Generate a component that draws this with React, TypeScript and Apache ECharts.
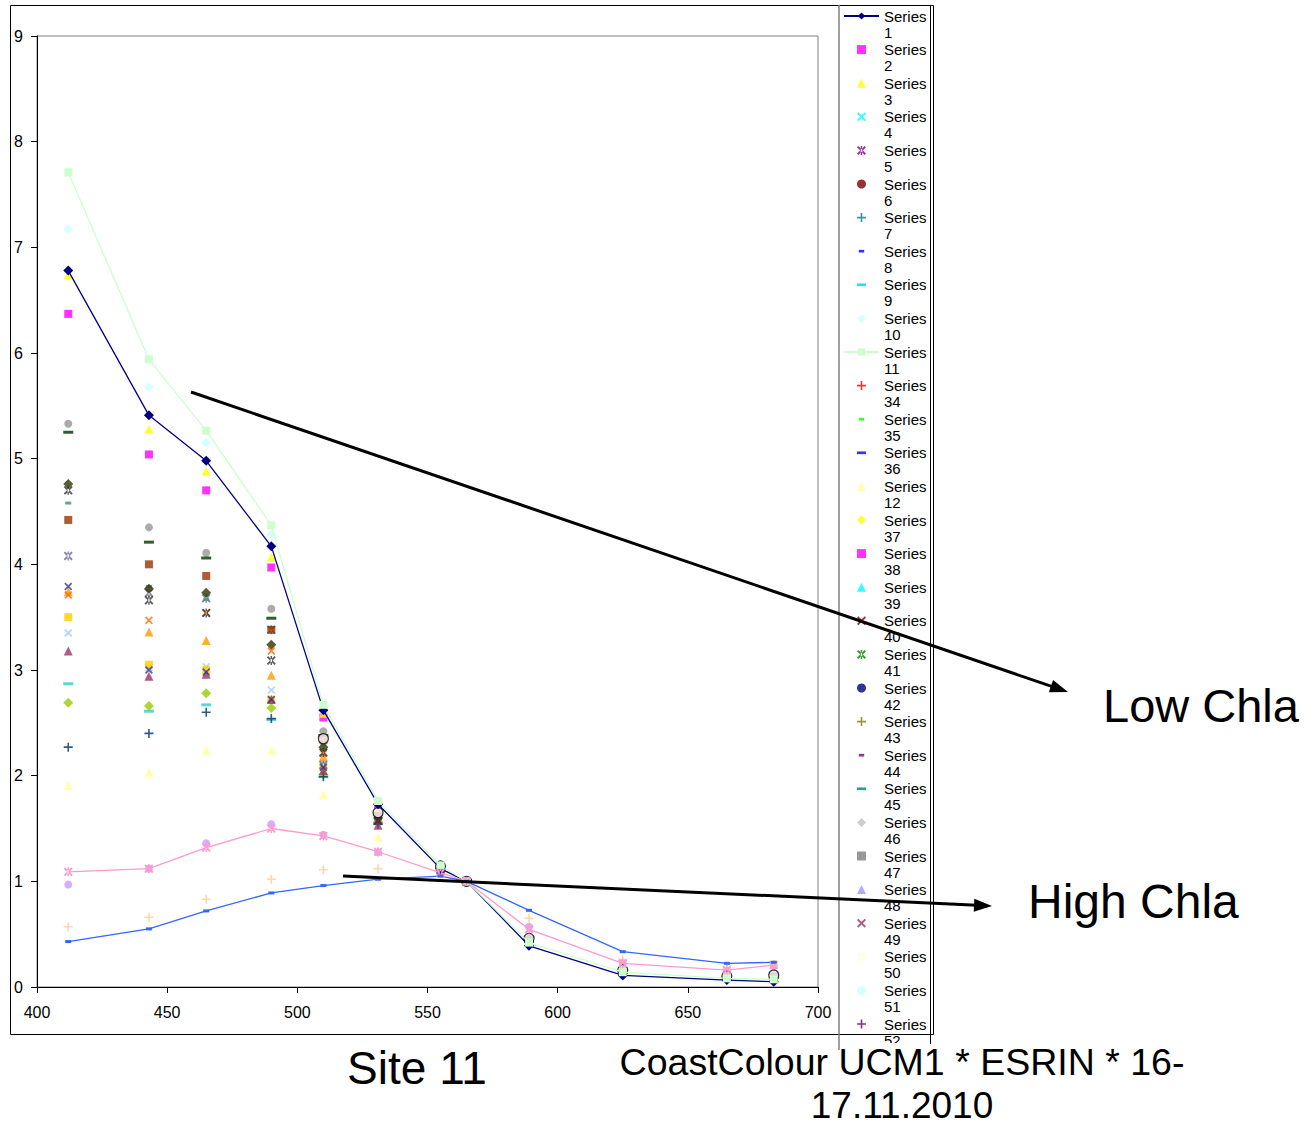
import React, { useEffect, useRef } from 'react';
import * as echarts from 'echarts';

// Wavelengths (nm) — x positions of the measurements
const wavelengths = [412, 443, 465, 490, 510, 531, 555, 565, 589, 625, 665, 683];
const xTicks = [400, 450, 500, 550, 600, 650, 700];
const yTicks = [0, 1, 2, 3, 4, 5, 6, 7, 8, 9];

// Normalised reflectance per series (null = no value)
const series1 = [6.78, 5.41, 4.98, 4.17, 2.62, 1.73, 1.12, 1.0, 0.39, 0.11, 0.066, 0.05];
const series2 = [6.37, 5.04, 4.7, 3.97, 2.55, 1.68, 1.13, 1.0, 0.44, 0.15, 0.09, 0.09];
const series3 = [6.74, 5.28, 4.88, 4.07, 2.59, 1.7, 1.13, 1.0, 0.43, 0.14, 0.09, 0.08];
const series10 = [7.17, 5.675, 5.15, 4.28, 2.64, 1.74, 1.14, 1.0, 0.42, 0.14, 0.08, 0.08];
const series11 = [7.71, 5.94, 5.265, 4.37, 2.67, 1.76, 1.15, 1.0, 0.42, 0.14, 0.082, 0.073];
const series12 = [1.91, 2.03, 2.24, 2.24, 1.82, 1.42, 1.1, 1.0, 0.5, 0.19, 0.12, 0.13];
const series13 = [3.35, 3.02, 3.03, 2.81, 2.12, 1.58, 1.12, 1.0, 0.46, 0.16, 0.1, 0.11];
const series14 = [1.09, 1.12, 1.32, 1.5, 1.43, 1.28, 1.08, 1.0, 0.546, 0.224, 0.16, 0.208];
const series15 = [0.97, 1.12, 1.36, 1.54, 1.44, 1.275, 1.09, 1.0, 0.57, 0.23, 0.15, 0.2];
const series16 = [0.57, 0.66, 0.83, 1.02, 1.11, 1.12, 1.07, 1.0, 0.65, 0.26, 0.17, 0.21];
const series17 = [0.43, 0.55, 0.72, 0.89, 0.96, 1.02, 1.05, 1.0, 0.726, 0.334, 0.224, 0.234];
const series18 = [2.87, 2.61, 2.67, 2.53, 1.99, 1.55, 1.11, 1.0, 0.47, 0.17, 0.11, 0.12];
const series19 = [2.69, 2.66, 2.78, 2.64, 2.01, 1.56, 1.11, 1.0, 0.46, 0.17, 0.1, 0.11];
const series20 = [3.5, 3.05, 3.0, 2.72, 2.08, 1.57, 1.12, 1.0, 0.45, 0.16, 0.1, 0.1];
const series21 = [3.74, 3.36, 3.28, 2.95, 2.18, 1.6, 1.12, 1.0, 0.44, 0.15, 0.09, 0.09];
const series22 = [3.71, 3.47, 3.54, 3.18, 2.21, 1.6, 1.12, 1.0, 0.44, 0.15, 0.09, 0.09];
const series23 = [4.08, 3.73, 3.68, 3.38, 2.1, 1.57, 1.12, 1.0, 0.45, 0.15, 0.09, 0.1];
const series24 = [5.33, 4.35, 4.11, 3.58, 2.42, 1.64, 1.14, 1.0, 0.44, 0.15, 0.1, 0.1];
const series25 = [2.27, 2.4, 2.6, 2.54, 1.99, 1.54, 1.11, 1.0, 0.47, 0.17, 0.11, 0.12];
const series26 = [4.58, 3.79, 3.67, 3.4, 2.3, 1.62, 1.13, 1.0, 0.44, 0.15, 0.09, 0.1];
const series27 = [5.25, 4.21, 4.06, 3.49, 2.38, 1.64, 1.13, 1.0, 0.43, 0.14, 0.09, 0.09];
const series28 = [4.76, 3.77, 3.73, 3.24, 2.27, 1.6, 1.12, 1.0, 0.44, 0.15, 0.09, 0.1];
const series29 = [4.42, 4.0, 3.89, 3.38, 2.34, 1.62, 1.13, 1.0, 0.44, 0.15, 0.09, 0.09];
const series30 = [3.18, 2.94, 2.96, 2.72, 2.05, 1.53, 1.11, 1.0, 0.47, 0.17, 0.11, 0.12];
const series31 = [3.79, 3.0, 2.98, 2.72, 2.08, 1.57, 1.12, 1.0, 0.45, 0.16, 0.1, 0.1];
const series32 = [4.7, 3.66, 3.54, 3.09, 2.22, 1.58, 1.12, 1.0, 0.45, 0.15, 0.09, 0.1];
const series33 = [null, null, null, null, 2.35, 1.65, 1.145, 1.0, 0.46, 0.16, 0.104, 0.114];

const seriesValues: Record<number, (number | null)[]> = {
  1: series1, 2: series2, 3: series3, 10: series10, 11: series11, 12: series12,
  13: series13, 14: series14, 15: series15, 16: series16, 17: series17, 18: series18,
  19: series19, 20: series20, 21: series21, 22: series22, 23: series23, 24: series24,
  25: series25, 26: series26, 27: series27, 28: series28, 29: series29, 30: series30,
  31: series31, 32: series32, 33: series33,
};

// Legend order as it appears in the reference
const legendOrder = [1, 2, 3, 4, 5, 6, 7, 8, 9, 10, 11, 34, 35, 36, 12, 37, 38, 39, 40, 41, 42, 43, 44, 45, 46, 47, 48, 49, 50, 51, 52];

const seriesColors: Record<number, string> = {
  1: '#000080', 2: '#FF00FF', 3: '#FFFF00', 4: '#00FFFF', 5: '#800080', 6: '#800000', 7: '#008080',
  8: '#0000FF', 9: '#00CCFF', 10: '#CCFFFF', 11: '#CCFFCC', 12: '#FFFF99', 13: '#99CCFF', 14: '#FF99CC',
  15: '#CC99FF', 16: '#FFCC99', 17: '#3366FF', 18: '#33CCCC', 19: '#99CC00', 20: '#FFCC00', 21: '#FF9900',
  22: '#FF6600', 23: '#666699', 24: '#969696', 25: '#003366', 26: '#339966', 27: '#003300', 28: '#333300',
  29: '#993300', 30: '#993366', 31: '#333399', 32: '#333333', 33: '#FFFFFF', 34: '#FF0000', 35: '#00FF00',
  36: '#0000FF', 37: '#FFFF00', 38: '#FF00FF', 39: '#00FFFF', 40: '#800000', 41: '#008000', 42: '#000080',
  43: '#808000', 44: '#800080', 45: '#008080', 46: '#C0C0C0', 47: '#808080', 48: '#9999FF', 49: '#993366',
  50: '#FFFFCC', 51: '#CCFFFF', 52: '#660066',
};

const lineSeries = [1, 11, 14, 17];
const markerCycle = ['diamond', 'square', 'triangle', 'x', 'star', 'circle', 'plus', 'sdash', 'ldash'];

const DIAMOND_PATH = 'path://M5,0L10,5L5,10L0,5Z';
const SQUARE_PATH = 'path://M0,0H10V10H0Z';
const TRI_PATH = 'path://M5,0L10,10L0,10Z';
const X_PATH = 'path://M0,1.5L1.5,0L5,3.5L8.5,0L10,1.5L6.5,5L10,8.5L8.5,10L5,6.5L1.5,10L0,8.5L3.5,5Z';
const STAR_PATH = 'path://M0,1.5L1.5,0L5,3.5L8.5,0L10,1.5L6.5,5L10,8.5L8.5,10L5,6.5L1.5,10L0,8.5L3.5,5Z M4.2,0L4.2,10L5.8,10L5.8,0Z';
const PLUS_PATH = 'path://M4.1,0H5.9V4.1H10V5.9H5.9V10H4.1V5.9H0V4.1H4.1Z';
const SDASH_PATH = 'path://M0,0M10,10M2,3.5H8V6.5H2Z';
const LDASH_PATH = 'path://M0,0M10,10M0,3.5H10V6.5H0Z';

const markerDefs: Record<string, { symbol: string; size: number }> = {
  diamond: { symbol: DIAMOND_PATH, size: 10 },
  square: { symbol: SQUARE_PATH, size: 8 },
  triangle: { symbol: TRI_PATH, size: 9 },
  x: { symbol: X_PATH, size: 8 },
  star: { symbol: STAR_PATH, size: 9 },
  circle: { symbol: 'circle', size: 8 },
  plus: { symbol: PLUS_PATH, size: 9 },
  sdash: { symbol: SDASH_PATH, size: 10 },
  ldash: { symbol: LDASH_PATH, size: 10 },
};

const FONT = "'Liberation Sans', Arial, sans-serif";

function arrow(x1: number, y1: number, x2: number, y2: number) {
  const dx = x2 - x1, dy = y2 - y1;
  const L = Math.hypot(dx, dy);
  const ux = dx / L, uy = dy / L;
  const hl = 18, hw = 6.5;
  const bx = x2 - ux * hl, by = y2 - uy * hl;
  return [
    { type: 'line', z: 100, shape: { x1, y1, x2: bx + ux * 3, y2: by + uy * 3 }, style: { stroke: '#000', lineWidth: 3 } },
    {
      type: 'polygon', z: 100,
      shape: { points: [[x2, y2], [bx - uy * hw, by + ux * hw], [bx + uy * hw, by - ux * hw]] },
      style: { fill: '#000' },
    },
  ];
}

export default function App() {
  const ref = useRef<HTMLDivElement>(null);

  useEffect(() => {
    document.body.style.margin = '0';
    if (!ref.current) return;
    const chart = echarts.init(ref.current, undefined, { renderer: 'svg' });

    const series: any[] = [];
    for (let n = 1; n <= 52; n++) {
      const vals = seriesValues[n] || [];
      const data = wavelengths
        .map((w, i) => (vals[i] == null ? null : [w, vals[i]]))
        .filter((d) => d !== null);
      const m = markerDefs[markerCycle[(n - 1) % 9]];
      const color = seriesColors[n];
      const isLine = lineSeries.includes(n);
      const base: any = {
        name: 'Series' + n,
        data,
        symbol: m.symbol,
        symbolSize: m.size,
        symbolKeepAspect: true,
        itemStyle: { color },
        silent: true,
      };
      if (n === 33) {
        base.symbol = 'circle';
        base.symbolSize = 10;
        base.itemStyle = { color: '#FFFFFF', borderColor: '#000000', borderWidth: 1.2 };
      }
      if (isLine) {
        series.push({ ...base, type: 'line', showAllSymbol: true, lineStyle: { color, width: 1.3 } });
      } else {
        series.push({ ...base, type: 'scatter' });
      }
    }

    chart.setOption({
      animation: false,
      textStyle: { fontFamily: FONT },
      grid: { left: 37, right: 489, top: 36, bottom: 138, show: true, borderColor: '#808080', borderWidth: 1 },
      xAxis: {
        type: 'value',
        min: xTicks[0],
        max: xTicks[xTicks.length - 1],
        interval: 50,
        axisLine: { show: true, lineStyle: { color: '#000', width: 1 } },
        axisTick: { show: true, length: 6, lineStyle: { color: '#000' } },
        axisLabel: { fontSize: 16, color: '#000', margin: 17, fontFamily: FONT },
        splitLine: { show: false },
      },
      yAxis: {
        type: 'value',
        min: yTicks[0],
        max: yTicks[yTicks.length - 1],
        interval: 1,
        axisLine: { show: true, lineStyle: { color: '#000', width: 1 } },
        axisTick: { show: true, length: 6, lineStyle: { color: '#000' } },
        axisLabel: { fontSize: 16, color: '#000', margin: 14, fontFamily: FONT },
        splitLine: { show: false },
      },
      legend: {
        orient: 'vertical',
        left: 843,
        top: -7.5,
        padding: 0,
        itemWidth: 35,
        itemHeight: 9,
        itemGap: -13.4,
        selectedMode: false,
        symbolKeepAspect: true,
        data: legendOrder.map((n) => 'Series' + n),
        formatter: (name: string) => '\n{s|Series}\n{n|' + name.replace('Series', '') + '}',
        textStyle: {
          fontSize: 15, lineHeight: 15, color: '#000', fontFamily: FONT,
          rich: {
            s: { fontSize: 15, lineHeight: 17, color: '#000', fontFamily: FONT },
            n: { fontSize: 15, lineHeight: 15, color: '#000', fontFamily: FONT },
          },
        },
      },
      series,
      graphic: [
        // outer chart frame
        { type: 'rect', z: 90, shape: { x: 10.5, y: 5.5, width: 923, height: 1029 }, style: { fill: 'none', stroke: '#000', lineWidth: 1 } },
        // legend box
        { type: 'line', z: 90, shape: { x1: 839, y1: 5, x2: 839, y2: 1050 }, style: { stroke: '#808080', lineWidth: 1.5 } },
        { type: 'line', z: 90, shape: { x1: 930.5, y1: 5, x2: 930.5, y2: 1044 }, style: { stroke: '#000', lineWidth: 1 } },
        // cover legend overflow below the frame
        { type: 'rect', z: 95, shape: { x: 840, y: 1043, width: 90, height: 82 }, style: { fill: '#fff' } },
        ...arrow(191, 392, 1068, 692),
        ...arrow(343, 876, 992, 906),
        { type: 'text', z: 110, style: { text: 'Low Chla', x: 1103, y: 705, fontSize: 47, fontFamily: FONT, fill: '#000', verticalAlign: 'middle', align: 'left' } },
        { type: 'text', z: 110, style: { text: 'High Chla', x: 1028, y: 901, fontSize: 48, fontFamily: FONT, fill: '#000', verticalAlign: 'middle', align: 'left' } },
        { type: 'text', z: 110, style: { text: 'Site 11', x: 417, y: 1068, fontSize: 46, fontFamily: FONT, fill: '#000', verticalAlign: 'middle', align: 'center' } },
        { type: 'text', z: 110, style: { text: 'CoastColour UCM1 * ESRIN * 16-', x: 902, y: 1062, fontSize: 37.5, lineHeight: 26, fontFamily: FONT, fill: '#000', verticalAlign: 'middle', align: 'center' } },
        { type: 'text', z: 110, style: { text: '17.11.2010', x: 902, y: 1105, fontSize: 37, lineHeight: 30, fontFamily: FONT, fill: '#000', verticalAlign: 'middle', align: 'center' } },
      ],
    });

    return () => chart.dispose();
  }, []);

  return <div ref={ref} style={{ width: 1307, height: 1125 }} />;
}
